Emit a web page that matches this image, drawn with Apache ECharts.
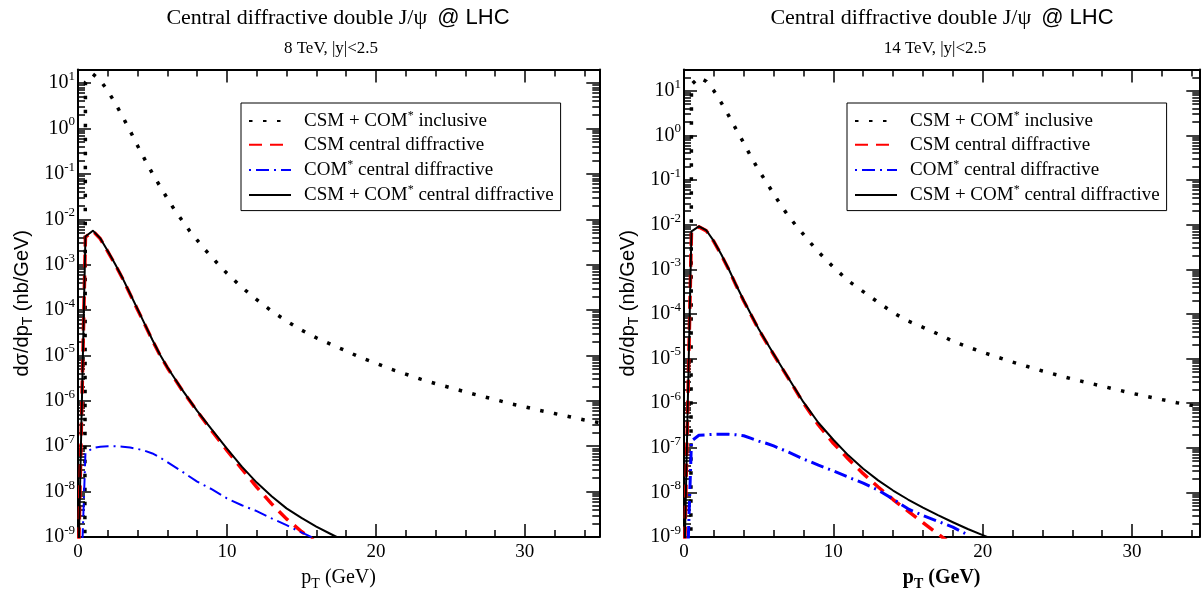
<!DOCTYPE html>
<html><head><meta charset="utf-8">
<script src="https://cdn.jsdelivr.net/npm/echarts@6/dist/echarts.min.js"></script>
<style>html,body{margin:0;padding:0;background:#fff}#c{width:1203px;height:596px}</style>
</head><body><div id="c"></div>
<script>
// ---------------- data ----------------
const titleMain = 'Central diffractive double J/ψ';
const titleTail = '@ LHC';
const subtitles = ['8 TeV, |y|<2.5', '14 TeV, |y|<2.5'];
const seriesNames = ['CSM + COM* inclusive', 'CSM central diffractive', 'COM* central diffractive', 'CSM + COM* central diffractive'];
const xMajor = [0, 10, 20, 30];
const xMinor = [2, 4, 6, 8, 12, 14, 16, 18, 22, 24, 26, 28, 32, 34];
const yExponents = [-9, -8, -7, -6, -5, -4, -3, -2, -1, 0, 1];

// pT grids (GeV)
const ptCD8 = [0,0.5,1,1.5,2,2.5,3,3.5,4,4.5,5,5.5,6,7,8,9,10,11,12,13,14,15,16,17,18];
const ptCD14 = [0,0.5,1,1.5,2,2.5,3,3.5,4,4.5,5,5.5,6,7,8,9,10,11,12,13,14,15,16,17,18,19,20,21];
const ptIncl = [0.45,0.5,1,1.5,2,2.5,3,3.5,4,4.5,5,5.5,6,6.5,7,7.5,8,8.5,9,9.5,10,11,12,13,14,15,16,17,18,19,20,21,22,23,24,25,26,27,28,29,30,31,32,33,34,35];

// 8 TeV (nb/GeV)
const incl8 = [1e-12, 10.5, 15.8, 11.5, 6.76, 3.63, 1.82, 0.891, 0.417, 0.204, 0.102, 5.37e-2, 2.88e-2, 1.58e-2, 9.33e-3, 5.50e-3, 3.47e-3, 2.19e-3, 1.45e-3, 9.55e-4, 6.46e-4, 3.16e-4, 1.70e-4, 9.55e-5, 5.75e-5, 3.63e-5, 2.45e-5, 1.74e-5, 1.26e-5, 8.91e-6, 6.76e-6, 5.01e-6, 3.89e-6, 3.02e-6, 2.40e-6, 1.95e-6, 1.58e-6, 1.29e-6, 1.07e-6, 8.71e-7, 7.41e-7, 6.17e-7, 5.25e-7, 4.47e-7, 3.80e-7, 3.31e-7];
const csm8 = [1e-10, 4.07e-3, 5.50e-3, 3.72e-3, 1.95e-3, 1.0e-3, 4.90e-4, 2.24e-4, 1.02e-4, 4.68e-5, 2.14e-5, 1.02e-5, 5.37e-6, 1.70e-6, 5.89e-7, 2.14e-7, 8.13e-8, 3.16e-8, 1.26e-8, 5.37e-9, 2.51e-9, 1.32e-9, 7.59e-10, 3.98e-10, 1.58e-10];
const com8 = [1e-12, 7.08e-8, 9.12e-8, 9.77e-8, 1.0e-7, 1.0e-7, 9.77e-8, 9.33e-8, 8.71e-8, 7.94e-8, 6.92e-8, 5.62e-8, 4.47e-8, 2.75e-8, 1.66e-8, 1.12e-8, 7.08e-9, 5.01e-9, 3.72e-9, 2.57e-9, 1.82e-9, 1.26e-9, 8.91e-10, 6.31e-10, 4.47e-10];
const sum8 = [1e-10, 4.17e-3, 5.62e-3, 3.80e-3, 2.0e-3, 1.02e-3, 5.01e-4, 2.29e-4, 1.05e-4, 4.79e-5, 2.19e-5, 1.05e-5, 5.50e-6, 1.74e-6, 6.03e-7, 2.29e-7, 8.91e-8, 3.55e-8, 1.58e-8, 7.94e-9, 4.27e-9, 2.63e-9, 1.70e-9, 1.15e-9, 7.94e-10];

// 14 TeV (nb/GeV)
const incl14 = [1e-12, 13.8, 20.0, 16.2, 10.0, 5.37, 2.75, 1.35, 0.676, 0.324, 0.166, 9.12e-2, 4.90e-2, 2.69e-2, 1.55e-2, 9.55e-3, 6.03e-3, 3.80e-3, 2.45e-3, 1.66e-3, 1.12e-3, 5.50e-4, 3.16e-4, 1.82e-4, 1.07e-4, 6.92e-5, 5.01e-5, 3.55e-5, 2.45e-5, 1.82e-5, 1.38e-5, 1.07e-5, 8.32e-6, 6.61e-6, 5.25e-6, 4.27e-6, 3.47e-6, 2.88e-6, 2.40e-6, 2.0e-6, 1.66e-6, 1.41e-6, 1.20e-6, 1.02e-6, 8.91e-7, 7.76e-7];
const csm14 = [1e-10, 6.92e-3, 8.91e-3, 7.24e-3, 4.17e-3, 2.09e-3, 9.77e-4, 4.27e-4, 1.95e-4, 9.33e-5, 4.47e-5, 2.34e-5, 1.23e-5, 3.55e-6, 1.0e-6, 3.24e-7, 1.26e-7, 5.62e-8, 2.63e-8, 1.32e-8, 6.92e-9, 3.80e-9, 2.09e-9, 1.17e-9, 6.61e-10];
const com14 = [1e-12, 1.41e-7, 1.91e-7, 1.95e-7, 2.0e-7, 2.0e-7, 2.0e-7, 1.95e-7, 1.86e-7, 1.62e-7, 1.41e-7, 1.26e-7, 1.10e-7, 7.94e-8, 5.62e-8, 4.07e-8, 3.02e-8, 2.19e-8, 1.62e-8, 1.12e-8, 7.08e-9, 4.27e-9, 3.02e-9, 2.24e-9, 1.66e-9, 1.12e-9];
const sum14 = [1e-10, 7.08e-3, 9.12e-3, 7.41e-3, 4.27e-3, 2.14e-3, 1.0e-3, 4.37e-4, 2.0e-4, 9.55e-5, 4.57e-5, 2.40e-5, 1.26e-5, 3.63e-6, 1.05e-6, 3.63e-7, 1.51e-7, 6.76e-8, 3.39e-8, 1.86e-8, 1.10e-8, 6.92e-9, 4.57e-9, 3.09e-9, 2.14e-9, 1.51e-9, 1.10e-9, 8.13e-10];

// ---------------- chart ----------------
const SERIF = '"Liberation Serif", "Times New Roman", serif';
const SANS = '"Liberation Sans", Arial, sans-serif';

const yMajor = yExponents.map(e => Number('1e' + e));
const yMinor = [];
yExponents.forEach(e => { for (let m = 2; m <= 9; m++) yMinor.push(Number(m + 'e' + e)); });

const panels = [
  {left: 78, width: 521.3, xMax: 35, yMax: 20, bold: false, sub: subtitles[0], center: 338,
   data: [[ptIncl, incl8], [ptCD8, csm8], [ptCD8, com8], [ptCD8, sum8]], comWidth: 2},
  {left: 684, width: 515.3, xMax: 34.5, yMax: 30, bold: true, sub: subtitles[1], center: 942,
   data: [[ptIncl, incl14], [ptCD14, csm14], [ptCD14, com14], [ptCD14, sum14]], comWidth: 3}
];

const TOP = 69.5, HEIGHT = 470.5;
const pairs = (xs, ys) => ys.map((y, k) => [xs[k], y]);

const grids = [], xAxes = [], yAxes = [], series = [], titles = [], legends = [];
const tickStyle = {color: '#000', width: 1.5};
const lineStyle = {color: '#000', width: 2};

const styles = [
  {color: '#000000', type: [3.5, 10.5], width: 3.5},
  {color: '#ff0000', type: [13, 8], width: 3.5},
  {color: '#0000ff', type: [2, 5, 13, 5], width: 2},
  {color: '#000000', type: 'solid', width: 2}
];

const legendText = [
  '{g| }{n|CSM + COM}{s|*}{n| inclusive}',
  '{g| }{n|CSM central diffractive}',
  '{g| }{n|COM}{s|*}{n| central diffractive}',
  '{g| }{n|CSM + COM}{s|*}{n| central diffractive}'
];

panels.forEach((p, gi) => {
  grids.push({left: p.left, top: TOP, width: p.width, height: HEIGHT});
  const xb = {gridIndex: gi, type: 'value', min: 0, max: p.xMax, splitLine: {show: false}};
  const nameStyle = {
    rich: {
      m: {fontFamily: SERIF, fontSize: 20, lineHeight: 26, color: '#000', fontWeight: p.bold ? 'bold' : 'normal'},
      t: {fontFamily: SERIF, fontSize: 14, lineHeight: 13, verticalAlign: 'bottom', color: '#000', fontWeight: p.bold ? 'bold' : 'normal'}
    }
  };
  xAxes.push(
    {...xb, position: 'bottom', axisLine: {show: true, onZero: false, lineStyle},
      axisTick: {show: true, inside: true, length: 13, customValues: xMajor, lineStyle: tickStyle},
      axisLabel: {show: true, customValues: xMajor, color: '#000', fontFamily: SERIF, fontSize: 19, margin: 6},
      name: '{m|p}{t|T}{m| (GeV)}', nameLocation: 'middle', nameGap: 28, nameTextStyle: nameStyle},
    {...xb, position: 'bottom', axisLine: {show: false, onZero: false},
      axisTick: {show: true, inside: true, length: 7, customValues: xMinor, lineStyle: tickStyle},
      axisLabel: {show: false}},
    {...xb, position: 'top', axisLine: {show: true, onZero: false, lineStyle},
      axisTick: {show: true, inside: true, length: 13, customValues: xMajor, lineStyle: tickStyle},
      axisLabel: {show: false}},
    {...xb, position: 'top', axisLine: {show: false, onZero: false},
      axisTick: {show: true, inside: true, length: 7, customValues: xMinor, lineStyle: tickStyle},
      axisLabel: {show: false}}
  );
  const minorVals = yMinor.filter(v => v <= p.yMax);
  const yb = {gridIndex: gi, type: 'log', logBase: 10, min: 1e-9, max: p.yMax, splitLine: {show: false}};
  yAxes.push(
    {...yb, position: 'left', axisLine: {show: true, onZero: false, lineStyle},
      axisTick: {show: true, inside: true, length: 13, customValues: yMajor, lineStyle: tickStyle},
      axisLabel: {show: true, customValues: yMajor, margin: 3,
        formatter: v => '{b|10}{e|' + Math.round(Math.log10(v)) + '}',
        rich: {
          b: {fontFamily: SERIF, fontSize: 20, lineHeight: 26, color: '#000'},
          e: {fontFamily: SERIF, fontSize: 13, lineHeight: 13, verticalAlign: 'top', color: '#000'}
        }},
      name: '{m|dσ/dp}{t|T}{m| (nb/GeV)}', nameLocation: 'middle', nameGap: 43,
      nameTextStyle: {rich: {
        m: {fontFamily: SANS, fontSize: 20, lineHeight: 26, color: '#000'},
        t: {fontFamily: SANS, fontSize: 14, lineHeight: 13, verticalAlign: 'bottom', color: '#000'}
      }}},
    {...yb, position: 'left', axisLine: {show: false, onZero: false},
      axisTick: {show: true, inside: true, length: 7, customValues: minorVals, lineStyle: tickStyle},
      axisLabel: {show: false}},
    {...yb, position: 'right', axisLine: {show: true, onZero: false, lineStyle},
      axisTick: {show: true, inside: true, length: 13, customValues: yMajor, lineStyle: tickStyle},
      axisLabel: {show: false}},
    {...yb, position: 'right', axisLine: {show: false, onZero: false},
      axisTick: {show: true, inside: true, length: 7, customValues: minorVals, lineStyle: tickStyle},
      axisLabel: {show: false}}
  );
  p.data.forEach((d, si) => {
    const st = styles[si];
    series.push({
      type: 'line', name: seriesNames[si], xAxisIndex: 4 * gi, yAxisIndex: 4 * gi,
      data: pairs(d[0], d[1]), symbol: 'none', showSymbol: false, silent: true,
      color: st.color, itemStyle: {color: st.color},
      lineStyle: {color: st.color, width: si === 2 ? p.comWidth : st.width, type: st.type, cap: 'butt', join: 'round'},
      z: 2 + si, animation: false
    });
  });
  titles.push(
    {text: '{a|' + titleMain + '}  {b|' + titleTail + '}', left: p.center, top: 7, textAlign: 'center', padding: 0,
     textStyle: {rich: {a: {fontFamily: SERIF, fontSize: 22, color: '#000', fontWeight: 'normal'},
                        b: {fontFamily: SANS, fontSize: 22, color: '#000', fontWeight: 'normal'}}}},
    {text: p.sub, left: p.center - 7, top: 40, textAlign: 'center', padding: 0,
     textStyle: {fontFamily: SERIF, fontSize: 17, color: '#000', fontWeight: 'normal'}}
  );
  legends.push({
    left: p.left + 163, top: 103, orient: 'vertical', data: seriesNames,
    itemWidth: 42, itemHeight: 14, itemGap: 4.7, padding: [7, 7, 6, 7],
    borderColor: '#000', borderWidth: 1, selectedMode: false,
    itemStyle: {opacity: 0, borderWidth: 0},
    formatter: name => legendText[seriesNames.indexOf(name)],
    textStyle: {color: '#000', fontFamily: SERIF, fontSize: 19, rich: {
      g: {width: 8, fontSize: 19, lineHeight: 22},
      n: {fontFamily: SERIF, fontSize: 19, lineHeight: 22, color: '#000'},
      s: {fontFamily: SERIF, fontSize: 12, lineHeight: 12, verticalAlign: 'top', color: '#000'}
    }}
  });
});

const chart = echarts.init(document.getElementById('c'), null, {renderer: 'canvas'});
chart.setOption({
  animation: false,
  backgroundColor: '#fff',
  title: titles,
  legend: legends,
  grid: grids,
  xAxis: xAxes,
  yAxis: yAxes,
  series: series
});
</script>
</body></html>
